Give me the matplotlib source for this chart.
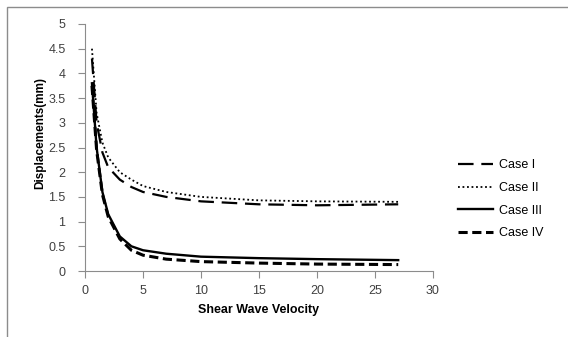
import matplotlib
matplotlib.use("Agg")
import matplotlib.pyplot as plt
from matplotlib.patches import Rectangle

# Data
velocity = [0.6, 1, 1.5, 2, 3, 4, 5, 7, 10, 15, 20, 27]
case_1 = [4.3, 3.0, 2.4, 2.1, 1.85, 1.7, 1.6, 1.5, 1.41, 1.35, 1.33, 1.35]
case_2 = [4.5, 3.2, 2.6, 2.3, 2.0, 1.85, 1.72, 1.6, 1.5, 1.43, 1.41, 1.4]
case_3 = [3.8, 2.5, 1.6, 1.15, 0.7, 0.5, 0.42, 0.35, 0.29, 0.26, 0.24, 0.22]
case_4 = [3.75, 2.45, 1.55, 1.1, 0.65, 0.42, 0.32, 0.24, 0.19, 0.16, 0.14, 0.13]
labels = ["Case I", "Case II", "Case III", "Case IV"]

x_ticks = [0, 5, 10, 15, 20, 25, 30]
y_ticks = [0, 0.5, 1, 1.5, 2, 2.5, 3, 3.5, 4, 4.5, 5]
y_ticklabels = ["0", "0.5", "1", "1.5", "2", "2.5", "3", "3.5", "4", "4.5", "5"]

plt.rcParams["font.family"] = ["Liberation Sans", "DejaVu Sans"]

fig = plt.figure(figsize=(5.68, 3.37), dpi=100)
ax = fig.add_axes([85 / 568, 66 / 337, 348 / 568, 247 / 337])

# outer chart border (cropped on right and bottom)
fig.patches.append(Rectangle((7 / 568, -0.1), 1.2, 1.1 - 7 / 337,
                             transform=fig.transFigure, fill=False,
                             edgecolor="#8c8c8c", linewidth=1.0))

styles = [
    dict(linestyle=(0, (7, 3.5)), linewidth=1.6),
    dict(linestyle=(0, (1, 1.5)), linewidth=1.3),
    dict(linestyle="-", linewidth=1.7),
    dict(linestyle=(0, (3, 1.5)), linewidth=2.2),
]
for y, lab, st in zip([case_1, case_2, case_3, case_4], labels, styles):
    ax.plot(velocity, y, color="black", label=lab, **st)

ax.set_xlim(0, 30)
ax.set_ylim(0, 5)
ax.set_xticks(x_ticks)
ax.set_yticks(y_ticks)
ax.set_yticklabels(y_ticklabels)
for side in ["top", "right"]:
    ax.spines[side].set_visible(False)
for side in ["left", "bottom"]:
    ax.spines[side].set_color("#8c8c8c")
ax.tick_params(direction="out", length=5, color="#8c8c8c", labelsize=9,
               labelcolor="#404040")
ax.tick_params(axis="y", pad=9)
ax.tick_params(axis="x", pad=5)

ax.set_xlabel("Shear Wave Velocity", fontsize=9, fontweight="bold", labelpad=5)
ax.set_ylabel("Displacements(mm)", fontsize=8.5, fontweight="bold")
ax.yaxis.set_label_coords(-0.11, 0.56)

ax.legend(loc="center left", bbox_to_anchor=(1.04, 0.29), frameon=False,
          fontsize=9, handlelength=2.8, labelspacing=0.85, handletextpad=0.5)

fig.savefig("out.png", dpi=100)
